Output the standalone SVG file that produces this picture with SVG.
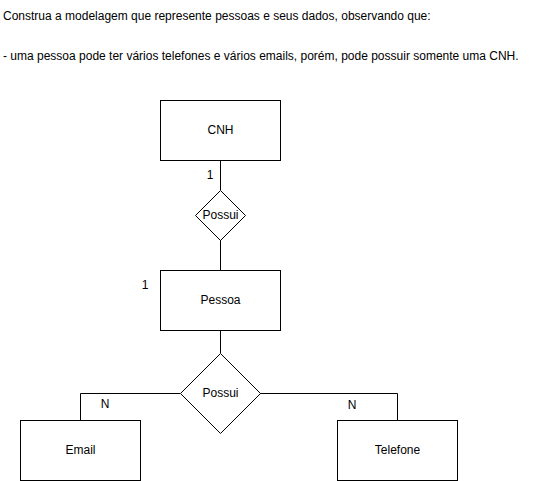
<svg xmlns="http://www.w3.org/2000/svg" width="560" height="481" viewBox="0 0 560 481">
<style>
text{font-family:"Liberation Sans",Arial,Helvetica,sans-serif;font-size:12px;fill:#000}
.c{text-anchor:middle;dominant-baseline:central}
.box{fill:#fff;stroke:#000;stroke-width:1}
.ln{fill:none;stroke:#000;stroke-width:1}
</style>
<rect width="560" height="481" fill="#fff"/>
<g id="header">
<text x="3" y="20">Construa a modelagem que represente pessoas e seus dados, observando que:</text>
<text x="3" y="60">- uma pessoa pode ter vários telefones e vários emails, porém, pode possuir somente uma CNH.</text>
</g>
<g id="connectors">
<path class="ln" d="M220.5 160V190"/>
<path class="ln" d="M220.5 240V270"/>
<path class="ln" d="M220.5 330V353"/>
<path class="ln" d="M180 393.5H80.5V420"/>
<path class="ln" d="M260 393.5H397.5V420"/>
<text class="c" x="210" y="175">1</text>
<text class="c" x="145" y="285">1</text>
<text class="c" x="105" y="404">N</text>
<text class="c" x="352" y="405">N</text>
</g>
<g id="cnh">
<rect class="box" x="160.5" y="100.5" width="120" height="60"/>
<text class="c" x="220.5" y="130">CNH</text>
</g>
<g id="possui1">
<path class="box" d="M220.5 190.5L245.5 215.5L220.5 240.5L195.5 215.5Z"/>
<text class="c" x="220.5" y="215">Possui</text>
</g>
<g id="pessoa">
<rect class="box" x="160.5" y="270.5" width="120" height="60"/>
<text class="c" x="220.5" y="300">Pessoa</text>
</g>
<g id="possui2">
<path class="box" d="M220.5 353.5L260.5 393.5L220.5 433.5L180.5 393.5Z"/>
<text class="c" x="220.5" y="393">Possui</text>
</g>
<g id="email">
<rect class="box" x="20.5" y="420.5" width="120" height="60"/>
<text class="c" x="80.5" y="450">Email</text>
</g>
<g id="telefone">
<rect class="box" x="337.5" y="420.5" width="120" height="60"/>
<text class="c" x="397.5" y="450">Telefone</text>
</g>
</svg>
